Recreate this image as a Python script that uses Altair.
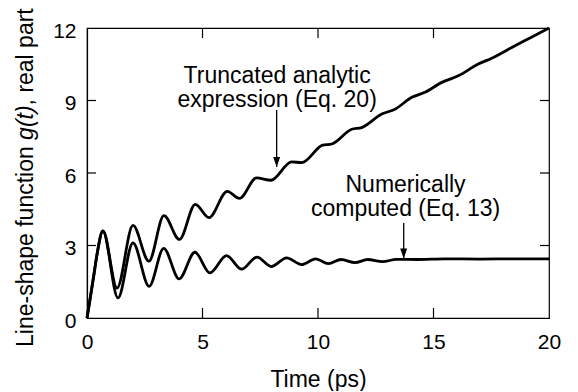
import altair as alt
import pandas as pd

# ---- data ----
# Truncated analytic expression (Eq. 20)
ana_t = [0.0, 0.12, 0.3, 0.42, 0.69, 1.30, 1.99, 2.68, 3.33, 4.00, 4.69, 5.28,
         6.07, 6.60, 7.34, 7.96, 8.86, 9.29, 10.2, 10.6, 11.46, 11.89, 12.76, 13.33,
         14.06, 14.63, 15.36, 16.07, 16.94, 17.52, 18.53, 19.2, 20.0]
ana_g = [0.0, 0.7, 1.8, 2.55, 3.6, 1.24, 3.83, 2.35, 4.24, 3.25, 4.70, 4.15,
         5.24, 4.95, 5.80, 5.70, 6.46, 6.43, 7.15, 7.20, 7.81, 7.88, 8.44, 8.64,
         9.13, 9.34, 9.75, 10.02, 10.51, 10.75, 11.27, 11.6, 12.0]

# Numerically computed (Eq. 13)
num_t = [0.0, 0.12, 0.3, 0.42, 0.69, 1.34, 1.99, 2.69, 3.32, 3.99, 4.67, 5.32,
         6.04, 6.69, 7.36, 7.98, 8.64, 9.29, 9.9, 10.45, 11.0, 11.6, 12.15, 12.8,
         13.4, 14.3, 15.5, 17.0, 18.5, 20.0]
num_g = [0.0, 0.7, 1.8, 2.55, 3.6, 0.83, 3.11, 1.31, 2.88, 1.62, 2.72, 1.87,
         2.58, 2.02, 2.52, 2.13, 2.49, 2.21, 2.45, 2.25, 2.42, 2.29, 2.42, 2.33,
         2.43, 2.42, 2.45, 2.44, 2.45, 2.45]

x_label_values = [0, 5, 10, 15, 20]
y_label_values = [0, 3, 6, 9, 12]
x_inner_ticks = [5, 10, 15]
y_inner_ticks = [3, 6, 9]

ann_text = ["Truncated analytic", "expression (Eq. 20)", "Numerically", "computed (Eq. 13)"]
ann_x = [8.23, 8.23, 13.79, 13.79]
ann_y = [9.72, 8.73, 5.21, 4.22]

arrow_x = [8.21, 13.71]
arrow_from = [8.61, 3.93]
arrow_to = [6.25, 2.46]

# ---- tables ----
curves = pd.concat([
    pd.DataFrame({"t": ana_t, "g": ana_g, "series": "analytic"}),
    pd.DataFrame({"t": num_t, "g": num_g, "series": "numerical"}),
])
ann = pd.DataFrame({"x": ann_x, "y": ann_y, "text": ann_text})
arrows = pd.DataFrame({"x": arrow_x, "y1": arrow_from, "y2": arrow_to})
tx = pd.DataFrame({"v": x_inner_ticks})
ty = pd.DataFrame({"v": y_inner_ticks})

W, H = 462, 290
FONT = "Liberation Sans"

xs = alt.Scale(domain=[0, 20], nice=False, zero=False)
ys = alt.Scale(domain=[0, 12], nice=False, zero=False)
xaxis = alt.Axis(values=x_label_values, title="Time (ps)", ticks=False, grid=False,
                 labelFlush=False, labelOverlap=False, labelPadding=13,
                 labelFontSize=21, titleFontSize=23, titleBaseline="alphabetic",
                 titleY=68, titleFontWeight="normal")
yaxis = alt.Axis(values=y_label_values, title=None, ticks=False, grid=False,
                 labelFlush=False, labelOverlap=False, labelPadding=11,
                 labelFontSize=21, labelOffset=3)


def X(f):
    return alt.X(f, type="quantitative", scale=xs, axis=xaxis)


def Y(f):
    return alt.Y(f, type="quantitative", scale=ys, axis=yaxis)


lines = alt.Chart(curves).mark_line(color="black", strokeWidth=2.8,
                                    interpolate="monotone").encode(
    x=X("t"), y=Y("g"), detail="series:N")

tick_style = dict(color="black", strokeWidth=1.2)
bottom_ticks = alt.Chart(tx).mark_rule(**tick_style).encode(
    x=X("v"), y=alt.value(H), y2=alt.value(H - 10))
top_ticks = alt.Chart(tx).mark_rule(**tick_style).encode(
    x=X("v"), y=alt.value(0), y2=alt.value(10))
left_ticks = alt.Chart(ty).mark_rule(**tick_style).encode(
    y=Y("v"), x=alt.value(0), x2=alt.value(9))
right_ticks = alt.Chart(ty).mark_rule(**tick_style).encode(
    y=Y("v"), x=alt.value(W), x2=alt.value(W - 9))

texts = alt.Chart(ann).mark_text(font=FONT, fontSize=23, align="center",
                                 baseline="alphabetic", color="black").encode(
    x=X("x"), y=Y("y"), text="text:N")

shafts = alt.Chart(arrows).mark_rule(color="black", strokeWidth=1.3).encode(
    x=X("x"), y=Y("y1"), y2="y2:Q")
heads = alt.Chart(arrows).mark_point(shape="M0,1L-0.7,-1L0.7,-1Z", size=100,
                                     filled=True, color="black", opacity=1,
                                     yOffset=-5).encode(
    x=X("x"), y=Y("y2"))

# y-axis title with italic g(t)
title_parts = [
    ("Line-shape function ", "normal", 319),
    ("g(t)", "italic", 111.9),
    (", real part", "normal", 77.4),
]
title_layers = [
    alt.Chart(pd.DataFrame({"s": [s]})).mark_text(
        font=FONT, fontSize=23, fontStyle=style, angle=270, align="left",
        baseline="alphabetic", color="black").encode(
        text="s:N", x=alt.value(-54), y=alt.value(ypos))
    for s, style, ypos in title_parts
]

chart = alt.layer(lines, bottom_ticks, top_ticks, left_ticks, right_ticks,
                  texts, shafts, heads, *title_layers).properties(
    width=W, height=H,
    autosize=alt.AutoSizeParams(type="none"),
    padding={"left": 79, "top": 20, "right": 21, "bottom": 73},
    background="white",
).configure_view(stroke="black", strokeWidth=1.2).configure_axis(
    labelFont=FONT, titleFont=FONT, labelColor="black", titleColor="black",
    domainColor="black", domainWidth=1.2,
)

chart.save("out.html", embed_options={"renderer": "svg", "actions": False})
